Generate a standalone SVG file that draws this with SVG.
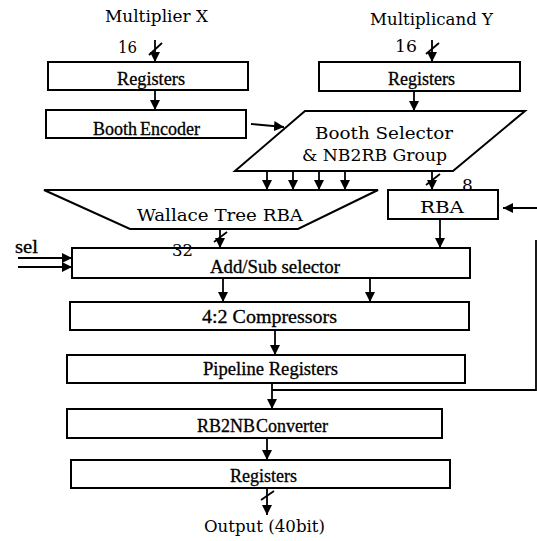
<svg xmlns="http://www.w3.org/2000/svg" width="537" height="541" viewBox="0 0 537 541">
<style>
.box{fill:#fff;stroke:#000;stroke-width:2}
.ln{fill:none;stroke:#000;stroke-width:1.8}
.arr{fill:none;stroke:#000;stroke-width:1.8;marker-end:url(#ah)}
.t1{font-family:"DejaVu Serif","Liberation Serif",serif;font-size:17px;fill:#000}
.t2{font-family:"Liberation Serif","Times New Roman",serif;font-size:18px;fill:#000;stroke:#000;stroke-width:0.3}
</style>
<defs>
<marker id="ah" viewBox="0 0 10 10" refX="10" refY="5" markerWidth="10" markerHeight="10" markerUnits="userSpaceOnUse" orient="auto">
<path d="M0,0 L10,5 L0,10 z" fill="#000"/>
</marker>
</defs>
<rect width="537" height="541" fill="#fff"/>

<g id="registers-x">
<rect class="box" x="48" y="62" width="200" height="28"/>
<text class="t2" x="117" y="85" textLength="68" lengthAdjust="spacingAndGlyphs">Registers</text>
</g>
<g id="registers-y">
<rect class="box" x="319" y="62" width="201" height="29"/>
<text class="t2" x="388" y="85" textLength="67" lengthAdjust="spacingAndGlyphs">Registers</text>
</g>
<g id="booth-encoder">
<rect class="box" x="46" y="110" width="200" height="28"/>
<text class="t2" x="93" y="135">Booth<tspan dx="3">Encoder</tspan></text>
</g>
<g id="booth-selector">
<polygon class="box" points="305,111 525,111 453,171 235,171"/>
<text class="t1" x="315" y="139" textLength="138" lengthAdjust="spacingAndGlyphs">Booth Selector</text>
<text class="t1" x="302" y="161" textLength="145" lengthAdjust="spacingAndGlyphs">&amp; NB2RB Group</text>
</g>
<g id="wallace-tree">
<polygon class="box" points="44,190 378,190 298,229 130,229"/>
<text class="t1" x="137" y="221" textLength="166" lengthAdjust="spacingAndGlyphs">Wallace Tree RBA</text>
</g>
<g id="rba">
<rect class="box" x="388" y="190" width="110" height="29"/>
<text class="t1" x="420" y="213" textLength="44" lengthAdjust="spacingAndGlyphs">RBA</text>
</g>
<g id="add-sub">
<rect class="box" x="72" y="248" width="398" height="30"/>
<text class="t2" x="210" y="273" textLength="130" lengthAdjust="spacingAndGlyphs">Add/Sub selector</text>
</g>
<g id="compressors">
<rect class="box" x="70" y="302" width="399" height="28"/>
<text class="t2" x="202" y="323" textLength="135" lengthAdjust="spacingAndGlyphs">4:2 Compressors</text>
</g>
<g id="pipeline">
<rect class="box" x="67" y="355" width="398" height="28"/>
<text class="t2" x="203" y="375" textLength="135" lengthAdjust="spacingAndGlyphs">Pipeline Registers</text>
</g>
<g id="rb2nb">
<rect class="box" x="67" y="409" width="375" height="29"/>
<text class="t2" x="197" y="432">RB2NB<tspan dx="1">Converter</tspan></text>
</g>
<g id="registers-out">
<rect class="box" x="71" y="460" width="379" height="28"/>
<text class="t2" x="230" y="482" textLength="67" lengthAdjust="spacingAndGlyphs">Registers</text>
</g>

<g id="connectors">
<line class="arr" x1="155" y1="40" x2="155" y2="62"/>
<line class="ln" x1="149" y1="55" x2="162" y2="43"/>
<line class="arr" x1="432" y1="40" x2="432" y2="62"/>
<line class="ln" x1="426" y1="54" x2="439" y2="43"/>
<line class="arr" x1="155" y1="90" x2="155" y2="110"/>
<line class="arr" x1="414" y1="91" x2="414" y2="111"/>
<line class="arr" x1="251" y1="124" x2="284" y2="127"/>
<line class="arr" x1="267" y1="171" x2="267" y2="190"/>
<line class="arr" x1="293" y1="171" x2="293" y2="190"/>
<line class="arr" x1="319" y1="171" x2="319" y2="190"/>
<line class="arr" x1="345" y1="171" x2="345" y2="190"/>
<line class="arr" x1="432" y1="171" x2="432" y2="190"/>
<line class="ln" x1="426" y1="185" x2="440" y2="174"/>
<line class="arr" x1="220" y1="229" x2="220" y2="248"/>
<line class="ln" x1="214" y1="242" x2="227" y2="232"/>
<line class="arr" x1="440" y1="219" x2="440" y2="248"/>
<line class="arr" x1="537" y1="208" x2="503" y2="208"/>
<line class="arr" x1="18" y1="258" x2="72" y2="258"/>
<line class="arr" x1="18" y1="267" x2="72" y2="267"/>
<line class="arr" x1="223" y1="278" x2="223" y2="302"/>
<line class="arr" x1="370" y1="278" x2="370" y2="302"/>
<line class="arr" x1="275" y1="330" x2="275" y2="355"/>
<line class="arr" x1="272" y1="383" x2="272" y2="409"/>
<polyline class="ln" points="272,390 536,390 536,240"/>
<line class="arr" x1="267" y1="438" x2="267" y2="460"/>
<line class="arr" x1="267" y1="488" x2="267" y2="515"/>
<line class="ln" x1="261" y1="500" x2="274" y2="491"/>
</g>

<g id="labels">
<text class="t1" x="105" y="22" textLength="103" lengthAdjust="spacingAndGlyphs">Multiplier X</text>
<text class="t1" x="370" y="25" textLength="123" lengthAdjust="spacingAndGlyphs">Multiplicand Y</text>
<text class="t1" x="118" y="53" textLength="19" lengthAdjust="spacingAndGlyphs">16</text>
<text class="t1" x="395" y="52" textLength="22" lengthAdjust="spacingAndGlyphs">16</text>
<text class="t2" x="15" y="253" textLength="23" lengthAdjust="spacingAndGlyphs">sel</text>
<text class="t1" x="172" y="256" textLength="21" lengthAdjust="spacingAndGlyphs">32</text>
<text class="t1" x="462" y="191">8</text>
<text class="t1" x="204" y="532" textLength="121" lengthAdjust="spacingAndGlyphs">Output (40bit)</text>
</g>
</svg>
